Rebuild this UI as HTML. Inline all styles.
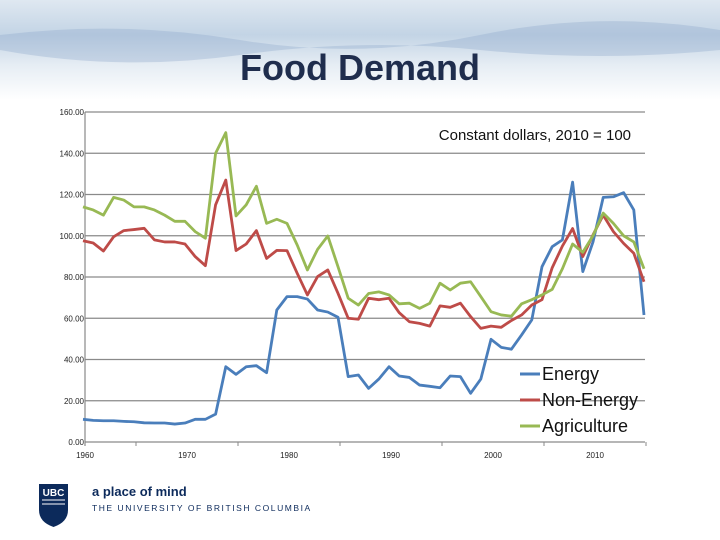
<!DOCTYPE html>
<html><head><meta charset="utf-8"><style>
html,body{margin:0;padding:0;width:720px;height:540px;overflow:hidden;background:#fff;}
svg{display:block;font-family:"Liberation Sans",sans-serif;}
</style></head><body>
<svg id="c" width="720" height="540" viewBox="0 0 720 540">
<defs>
<linearGradient id="water" x1="0" y1="0" x2="0" y2="1">
<stop offset="0" stop-color="#dfe8f1"/><stop offset="0.35" stop-color="#c3d4e5"/><stop offset="0.65" stop-color="#e6edf4"/><stop offset="1" stop-color="#ffffff"/>
</linearGradient>
</defs>
<rect x="0" y="0" width="720" height="100" fill="url(#water)"/>
<path d="M0,35 Q120,20 240,40 T480,35 T720,30 L720,50 Q600,62 480,50 T240,55 T0,50Z" fill="#8faacb" opacity="0.35"/>
<text x="360" y="80" text-anchor="middle" font-size="36" font-weight="bold" fill="#1f2d4d">Food Demand</text>
<g id="grid"></g>
<g id="yt" font-size="8" fill="#222"></g>
<g id="xt" font-size="8" fill="#222"></g>
<g id="series"></g>
<text x="631" y="140" text-anchor="end" font-size="15" fill="#111">Constant dollars, 2010 = 100</text>
<g id="legend" font-size="18" fill="#111"></g>
<g>
<path d="M39,484 L68,484 L68,510 Q68,522 53.5,527 Q39,522 39,510Z" fill="#0c2a5b"/>
<text x="53.5" y="496" text-anchor="middle" font-size="10" font-weight="bold" fill="#fff">UBC</text>
<path d="M42,500 H65 M42,504 H65" stroke="#fff" stroke-width="1"/>
<text x="92" y="496" font-size="13" font-weight="bold" fill="#0c2a5b">a place of mind</text>
<text x="92" y="511" font-size="8.5" fill="#0c2a5b" letter-spacing="1.55">THE UNIVERSITY OF BRITISH COLUMBIA</text>
</g>
</svg>
<script>
const years=[];for(let y=1960;y<=2015;y++)years.push(y);
const yTicks=[0,20,40,60,80,100,120,140,160];
const xLabels=[1960,1970,1980,1990,2000,2010];
const energy=[11,10.5,10.3,10.3,10,9.8,9.3,9.2,9.2,8.7,9.2,11,11,13.5,36.5,32.8,36.5,37,33.6,64,70.5,70.5,69.3,64,63,60.5,31.7,32.5,26,30.5,36.5,32,31.3,27.6,27,26.3,32,31.7,23.6,30.5,49.8,45.9,45,51.9,59.2,85,94.7,98,126,82.6,97,118.6,118.9,120.9,112.5,61.6];
const nonEnergy=[97.6,96.5,92.6,99.5,102.5,103,103.6,98,97,97,96,89.9,85.5,115,127,92.8,96,102.5,89,92.9,92.8,81.8,71.3,80.2,83.4,72.1,60,59.5,69.7,69,69.7,62.7,58.3,57.5,56.2,66,65.3,67.3,60.8,55.1,56.2,55.6,58.9,61.6,66.4,69,84.5,95,103.5,89.9,100.4,110,102,96.3,91.5,77.7];
const agriculture=[114,112.5,110,118.6,117.3,114,114,112.5,110,107,107,102,98.8,140,150,109.6,115,124,106,108,106,95.5,83.4,93.4,99.9,85,69.7,66.4,72,72.8,71.3,67,67.3,64.8,67.3,77,73.7,77,77.7,70.5,63.2,61.6,61,67,69,71.3,74,84,96,92,100,111,106,100,97,84];
const seriesNames=["Energy","Non-Energy","Agriculture"];
const NS='http://www.w3.org/2000/svg';
const X0=83,DX=10.2,Y0=442,SY=330/160;
function xs(i){return X0+i*DX;}
function ys(v){return Y0-v*SY;}
function mk(t,a,p){const e=document.createElementNS(NS,t);for(const k in a)e.setAttribute(k,a[k]);p.appendChild(e);return e;}
const grid=document.getElementById('grid'),yt=document.getElementById('yt'),xt=document.getElementById('xt');
yTicks.forEach(v=>{
 const l=mk('line',{x1:85,x2:645,y1:ys(v),y2:ys(v),stroke:'#8a8a8a','stroke-width':1.2},grid);
 
 
 const t=mk('text',{x:84,y:ys(v)+3,'text-anchor':'end'},yt);t.textContent=v.toFixed(2);
 
 
});
mk('line',{x1:85,x2:85,y1:ys(160),y2:Y0+4,stroke:'#888','stroke-width':1.2},grid);
for(let i=5;i<years.length;i+=10){mk('line',{x1:xs(i)+2,x2:xs(i)+2,y1:Y0,y2:Y0+4,stroke:'#888'},grid);}
xLabels.forEach(yr=>{
 const t=mk('text',{x:xs(yr-1960)+2,y:Y0+16,'text-anchor':'middle'},xt);t.textContent=String(yr);
 
 
});
const sg=document.getElementById('series'),lg=document.getElementById('legend');
const data=[energy,nonEnergy,agriculture],cols=['#4a7ebb','#be4b48','#98b954'];
data.forEach((arr,k)=>{
 const p=mk('polyline',{points:arr.map((v,i)=>xs(i)+','+ys(v)).join(' '),fill:'none',stroke:cols[k],'stroke-width':2.8,'stroke-linejoin':'round'},sg);
 
 
 const ly=374+k*26;
 mk('line',{x1:520,x2:540,y1:ly,y2:ly,stroke:cols[k],'stroke-width':3},lg);
 const t=mk('text',{x:542,y:ly+6},lg);t.textContent=seriesNames[k];
 
 
});
</script>
</body></html>
